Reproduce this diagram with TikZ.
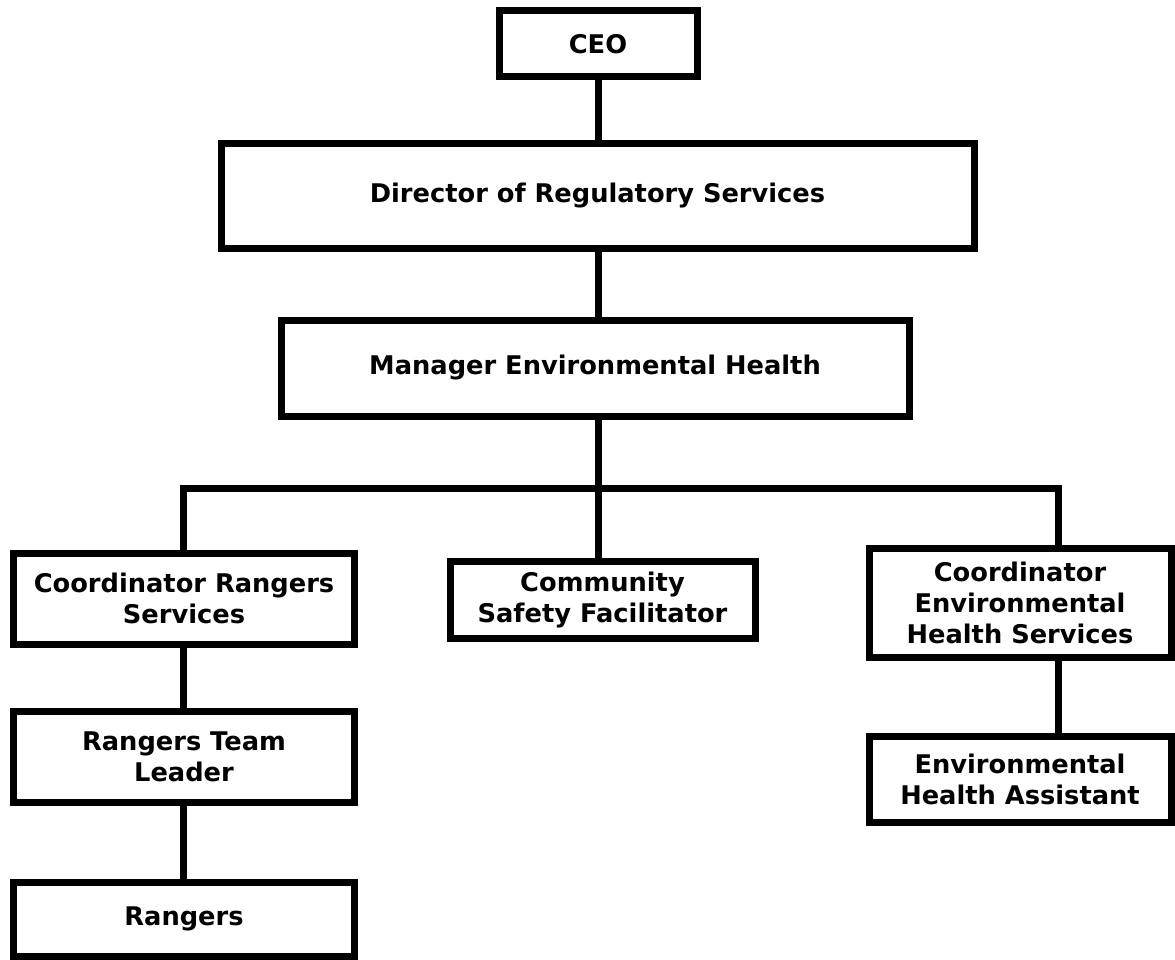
\documentclass[tikz,border=0pt]{standalone}
\usepackage{fontspec}
\setmainfont{DejaVu Sans}
\begin{document}
\begin{tikzpicture}[x=1pt,y=-1pt,
  box/.style={draw=black,line width=7pt,fill=white,inner sep=0pt,align=center,
    font=\bfseries\fontsize{25.7}{31}\selectfont},
  link/.style={draw=black,line width=7pt,line join=miter}]
\useasboundingbox (0,0) rectangle (1175,960);

% boxes: centre, width and height of the border line
\node[box,minimum width=198pt,minimum height=66pt] (ceo) at (598,44) {CEO};
\node[box,minimum width=753pt,minimum height=104pt] (dir) at (597.5,196) {Director of Regulatory Services};
\node[box,minimum width=628pt,minimum height=96pt] (mgr) at (595,368) {Manager Environmental Health};

\node[box,minimum width=341pt,minimum height=91pt] (crs) at (184,598.5) {Coordinator Rangers\\Services};
\node[box,minimum width=305pt,minimum height=77pt] (csf) at (602.5,600) {Community\\Safety Facilitator};
\node[box,minimum width=302pt,minimum height=109pt] (cehs) at (1020,602.5) {Coordinator\\Environmental\\Health Services};

\node[box,minimum width=341pt,minimum height=91pt] (rtl) at (184,756.5) {Rangers Team\\Leader};
\node[box,minimum width=341pt,minimum height=74pt] (rng) at (184,919) {Rangers};
\node[box,minimum width=302pt,minimum height=86pt] (eha) at (1020,779) {Environmental\\Health Assistant};

% reporting lines
\coordinate (busL) at (183,488);
\coordinate (busR) at (1058,488);

\draw[link] (ceo.south) -- (ceo.south |- dir.north);
\draw[link] (ceo.south |- dir.south) -- (ceo.south |- mgr.north);
\draw[link] (ceo.south |- mgr.south) -- (ceo.south |- csf.north);
\draw[link] (busL |- crs.north) -- (busL) -- (busR) -- (busR |- cehs.north);
\draw[link] (busL |- crs.south) -- (busL |- rtl.north);
\draw[link] (busL |- rtl.south) -- (busL |- rng.north);
\draw[link] (busR |- cehs.south) -- (busR |- eha.north);
\end{tikzpicture}
\end{document}
